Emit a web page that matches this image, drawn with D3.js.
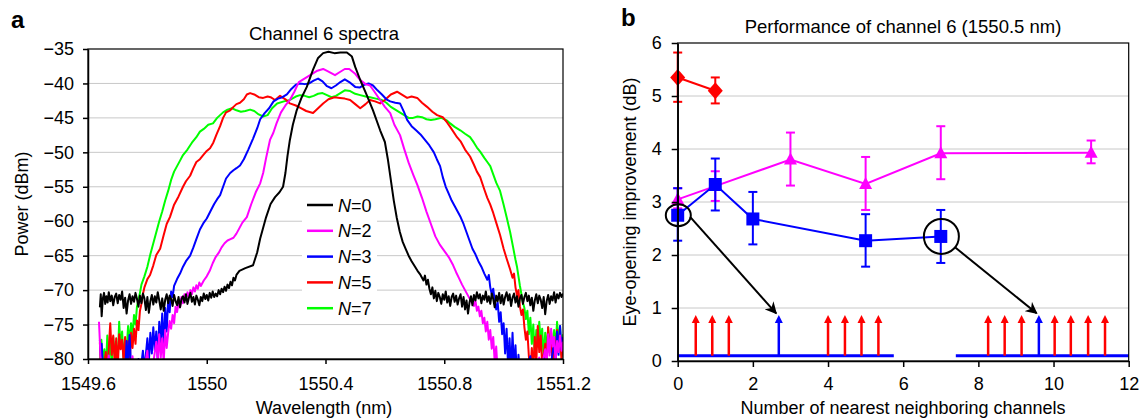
<!DOCTYPE html>
<html>
<head>
<meta charset="utf-8">
<script src="https://cdn.jsdelivr.net/npm/d3@7"></script>
<style>
  body { margin: 0; background: #fff; }
  svg { font-family: "Liberation Sans", Arial, Helvetica, sans-serif; }
  .grid line { stroke: #c8c8c8; stroke-width: 1; }
  .axis path, .axis line { stroke: #000; stroke-width: 1.5; }
  .axis text { font-size: 18px; fill: #000; }
</style>
</head>
<body>
<svg id="canvas" width="1142" height="420"></svg>
<script>
// ---------- panel a : channel 6 spectra ----------
var wlTicks = [1549.6, 1550, 1550.4, 1550.8, 1551.2];
var wlTickLabels = ["1549.6", "1550", "1550.4", "1550.8", "1551.2"];
var powerTicks = [-80, -75, -70, -65, -60, -55, -50, -45, -40, -35];
var legendLabels = ["0", "2", "3", "5", "7"];
var spectraColors = ["#000000", "#ff00ff", "#0000ff", "#ff0000", "#00ff00"];

// [wavelength (nm), power (dBm)]
var specN0 = [[1549.640,-72.5],[1549.643,-70.6],[1549.646,-73.8],[1549.650,-71.2],[1549.654,-70.4],[1549.658,-72.0],[1549.662,-70.9],[1549.666,-71.8],[1549.670,-70.3],[1549.675,-71.6],[1549.680,-70.8],[1549.685,-72.2],[1549.690,-71.0],[1549.695,-70.5],[1549.700,-71.9],[1549.705,-70.7],[1549.710,-71.4],[1549.715,-70.2],[1549.720,-72.6],[1549.725,-71.1],[1549.730,-73.4],[1549.735,-71.5],[1549.740,-70.6],[1549.745,-72.0],[1549.750,-70.9],[1549.755,-71.7],[1549.760,-70.4],[1549.765,-71.3],[1549.770,-72.4],[1549.775,-70.8],[1549.780,-71.9],[1549.785,-70.5],[1549.790,-71.2],[1549.795,-72.9],[1549.800,-71.0],[1549.805,-73.3],[1549.810,-71.6],[1549.815,-70.7],[1549.820,-72.1],[1549.825,-70.9],[1549.830,-71.8],[1549.835,-70.3],[1549.840,-71.5],[1549.845,-72.8],[1549.850,-71.2],[1549.855,-73.0],[1549.860,-71.4],[1549.865,-70.6],[1549.870,-71.9],[1549.875,-70.8],[1549.880,-71.3],[1549.885,-72.3],[1549.890,-70.7],[1549.895,-71.6],[1549.900,-72.2],[1549.905,-71.0],[1549.910,-72.5],[1549.915,-71.3],[1549.920,-70.9],[1549.925,-71.8],[1549.930,-70.6],[1549.935,-72.0],[1549.940,-71.1],[1549.945,-70.4],[1549.950,-71.7],[1549.955,-71.0],[1549.960,-72.1],[1549.965,-70.8],[1549.970,-71.4],[1549.975,-72.2],[1549.980,-71.0],[1549.985,-71.6],[1549.990,-70.5],[1549.995,-71.3],[1550.000,-70.7],[1550.005,-71.5],[1550.010,-70.4],[1550.015,-71.1],[1550.020,-70.2],[1550.025,-71.0],[1550.030,-70.5],[1550.035,-70.9],[1550.040,-70.0],[1550.045,-70.6],[1550.050,-69.8],[1550.055,-70.3],[1550.060,-69.5],[1550.065,-70.1],[1550.070,-69.2],[1550.075,-69.7],[1550.080,-68.8],[1550.085,-69.3],[1550.090,-68.2],[1550.095,-68.6],[1550.100,-67.8],[1550.110,-67.2],[1550.130,-66.8],[1550.156,-66.4],[1550.170,-64.5],[1550.180,-62.5],[1550.200,-59.4],[1550.215,-57.5],[1550.230,-56.5],[1550.245,-55.8],[1550.257,-55.0],[1550.265,-53.0],[1550.272,-50.5],[1550.280,-48.2],[1550.290,-46.0],[1550.303,-43.9],[1550.320,-42.0],[1550.337,-40.5],[1550.358,-38.0],[1550.375,-36.3],[1550.392,-35.6],[1550.410,-35.4],[1550.430,-35.6],[1550.450,-35.5],[1550.472,-35.5],[1550.489,-36.1],[1550.500,-37.6],[1550.517,-39.5],[1550.539,-41.7],[1550.560,-43.9],[1550.584,-46.8],[1550.600,-48.5],[1550.610,-51.0],[1550.620,-54.0],[1550.630,-57.0],[1550.640,-59.5],[1550.650,-61.5],[1550.660,-63.0],[1550.670,-64.0],[1550.680,-65.0],[1550.690,-65.8],[1550.700,-66.5],[1550.710,-67.2],[1550.720,-67.8],[1550.730,-68.6],[1550.735,-67.9],[1550.740,-69.2],[1550.745,-68.5],[1550.750,-69.8],[1550.755,-70.6],[1550.760,-69.6],[1550.765,-71.2],[1550.770,-70.1],[1550.775,-71.6],[1550.780,-70.4],[1550.785,-71.0],[1550.790,-72.0],[1550.795,-70.6],[1550.800,-71.4],[1550.805,-70.2],[1550.810,-71.8],[1550.815,-70.9],[1550.820,-72.3],[1550.825,-71.0],[1550.830,-70.5],[1550.835,-71.7],[1550.840,-70.8],[1550.845,-72.1],[1550.850,-71.2],[1550.855,-70.6],[1550.860,-72.4],[1550.865,-71.0],[1550.870,-72.8],[1550.875,-71.5],[1550.880,-73.4],[1550.885,-71.8],[1550.890,-70.9],[1550.895,-72.2],[1550.900,-70.7],[1550.905,-71.5],[1550.910,-70.3],[1550.915,-71.2],[1550.920,-70.6],[1550.925,-71.9],[1550.930,-70.8],[1550.935,-71.4],[1550.940,-70.2],[1550.945,-71.7],[1550.950,-70.9],[1550.955,-72.0],[1550.960,-70.5],[1550.965,-71.3],[1550.970,-72.5],[1550.975,-70.8],[1550.980,-71.6],[1550.985,-70.4],[1550.990,-71.9],[1550.995,-70.7],[1551.000,-72.1],[1551.005,-71.0],[1551.010,-70.3],[1551.015,-71.5],[1551.020,-70.6],[1551.025,-72.3],[1551.030,-71.1],[1551.035,-70.5],[1551.040,-71.8],[1551.045,-70.9],[1551.050,-72.4],[1551.055,-71.2],[1551.060,-70.7],[1551.065,-72.0],[1551.070,-71.0],[1551.075,-70.4],[1551.080,-71.6],[1551.085,-70.8],[1551.090,-72.2],[1551.095,-71.1],[1551.100,-73.0],[1551.105,-71.5],[1551.110,-70.6],[1551.115,-71.9],[1551.120,-70.8],[1551.125,-71.4],[1551.130,-72.6],[1551.135,-71.0],[1551.140,-73.5],[1551.145,-71.6],[1551.150,-70.7],[1551.155,-72.0],[1551.160,-70.9],[1551.165,-71.5],[1551.170,-70.3],[1551.175,-71.8],[1551.180,-70.6],[1551.185,-71.2],[1551.190,-70.4],[1551.195,-71.0],[1551.200,-70.5]];

var specN2 = [[1549.637,-74.6],[1549.640,-77.5],[1549.643,-81],[1549.650,-83],[1549.660,-82],[1549.670,-79.5],[1549.675,-82],[1549.690,-83],[1549.700,-81],[1549.720,-83],[1549.740,-82],[1549.750,-79.6],[1549.755,-82.5],[1549.770,-83],[1549.790,-81.5],[1549.800,-78.8],[1549.805,-82],[1549.820,-80.5],[1549.830,-77.5],[1549.835,-80.2],[1549.840,-76.4],[1549.845,-79.8],[1549.850,-77.0],[1549.855,-80.5],[1549.860,-75.8],[1549.865,-78.4],[1549.870,-76.2],[1549.875,-74.5],[1549.880,-75.6],[1549.885,-73.6],[1549.890,-74.8],[1549.895,-72.4],[1549.900,-73.2],[1549.905,-71.8],[1549.910,-72.5],[1549.915,-71.0],[1549.920,-71.9],[1549.925,-70.6],[1549.930,-71.4],[1549.935,-70.3],[1549.940,-71.0],[1549.945,-70.0],[1549.950,-70.6],[1549.955,-69.6],[1549.960,-70.2],[1549.965,-69.3],[1549.970,-69.8],[1549.975,-68.9],[1549.980,-69.4],[1549.990,-68.6],[1550.000,-68.0],[1550.010,-67.2],[1550.020,-66.1],[1550.030,-65.2],[1550.040,-64.6],[1550.050,-63.8],[1550.060,-63.2],[1550.070,-62.8],[1550.080,-62.6],[1550.090,-62.4],[1550.100,-61.8],[1550.110,-61.0],[1550.120,-60.2],[1550.135,-59.4],[1550.150,-57.5],[1550.165,-55.8],[1550.180,-54.5],[1550.190,-53.0],[1550.200,-50.8],[1550.213,-48.2],[1550.224,-47.2],[1550.235,-45.8],[1550.250,-44.2],[1550.265,-43.2],[1550.280,-42.4],[1550.295,-41.2],[1550.310,-39.8],[1550.325,-39.4],[1550.340,-39.0],[1550.355,-38.6],[1550.370,-38.2],[1550.392,-37.9],[1550.410,-38.3],[1550.432,-38.8],[1550.450,-38.3],[1550.465,-37.9],[1550.480,-37.9],[1550.500,-38.6],[1550.517,-39.5],[1550.535,-40.1],[1550.550,-40.3],[1550.565,-41.2],[1550.584,-42.4],[1550.600,-43.4],[1550.618,-44.3],[1550.632,-46.0],[1550.651,-47.5],[1550.665,-49.5],[1550.680,-51.5],[1550.695,-53.2],[1550.710,-54.8],[1550.725,-56.6],[1550.740,-58.6],[1550.755,-60.4],[1550.770,-62.2],[1550.785,-63.4],[1550.800,-64.3],[1550.815,-65.2],[1550.830,-66.4],[1550.840,-67.4],[1550.850,-68.3],[1550.860,-69.2],[1550.870,-70.0],[1550.880,-70.8],[1550.890,-71.6],[1550.900,-72.3],[1550.905,-71.5],[1550.910,-73.0],[1550.915,-72.4],[1550.920,-73.8],[1550.925,-73.0],[1550.930,-74.8],[1550.935,-74.0],[1550.940,-76.0],[1550.945,-74.6],[1550.950,-77.2],[1550.955,-75.8],[1550.960,-78.5],[1550.965,-76.8],[1550.970,-80.5],[1550.975,-78.2],[1550.980,-82],[1550.990,-83],[1551.000,-81],[1551.010,-83],[1551.030,-82],[1551.050,-83],[1551.070,-81.5],[1551.080,-83],[1551.100,-82],[1551.120,-79.8],[1551.125,-82],[1551.140,-78.6],[1551.145,-81],[1551.150,-76.4],[1551.155,-79.5],[1551.160,-75.6],[1551.165,-78.2],[1551.170,-76.8],[1551.175,-80.5],[1551.180,-77.4],[1551.185,-79.0],[1551.190,-76.6],[1551.195,-78.8],[1551.200,-77.5]];

var specN3 = [[1549.640,-77.2],[1549.643,-79.5],[1549.646,-77.8],[1549.650,-81],[1549.660,-83],[1549.670,-81.5],[1549.680,-83],[1549.690,-80.8],[1549.695,-82.5],[1549.710,-83],[1549.720,-80.5],[1549.725,-82],[1549.730,-77.4],[1549.735,-80.6],[1549.740,-76.5],[1549.745,-81],[1549.755,-83],[1549.770,-80],[1549.775,-82.5],[1549.785,-78.8],[1549.790,-81.6],[1549.800,-77.0],[1549.805,-80.4],[1549.810,-76.2],[1549.815,-79.2],[1549.820,-75.4],[1549.825,-78.8],[1549.830,-76.0],[1549.835,-80.2],[1549.840,-74.6],[1549.845,-77.6],[1549.850,-73.4],[1549.855,-78.4],[1549.860,-72.6],[1549.865,-76.0],[1549.870,-71.4],[1549.875,-73.2],[1549.880,-70.2],[1549.885,-71.0],[1549.890,-69.4],[1549.900,-68.4],[1549.910,-67.6],[1549.920,-66.6],[1549.930,-65.8],[1549.944,-65.0],[1549.955,-63.8],[1549.965,-62.6],[1549.977,-61.2],[1549.990,-60.2],[1550.000,-59.6],[1550.012,-58.6],[1550.025,-57.5],[1550.035,-56.8],[1550.045,-56.2],[1550.055,-55.0],[1550.065,-53.8],[1550.079,-53.0],[1550.090,-52.6],[1550.100,-52.3],[1550.112,-51.9],[1550.125,-51.0],[1550.140,-49.6],[1550.156,-48.0],[1550.170,-46.5],[1550.180,-45.2],[1550.195,-44.3],[1550.210,-43.6],[1550.225,-42.6],[1550.240,-42.2],[1550.255,-42.0],[1550.270,-41.6],[1550.285,-40.8],[1550.300,-40.2],[1550.314,-40.0],[1550.330,-40.1],[1550.345,-40.0],[1550.360,-39.6],[1550.375,-39.3],[1550.390,-39.7],[1550.405,-40.4],[1550.420,-40.7],[1550.435,-40.3],[1550.450,-39.8],[1550.465,-39.4],[1550.480,-39.8],[1550.500,-40.5],[1550.515,-40.6],[1550.530,-40.2],[1550.545,-40.0],[1550.560,-40.3],[1550.575,-41.0],[1550.590,-41.6],[1550.605,-42.3],[1550.618,-42.6],[1550.635,-42.8],[1550.651,-42.9],[1550.665,-44.2],[1550.675,-45.3],[1550.690,-46.2],[1550.705,-46.8],[1550.720,-47.4],[1550.735,-48.2],[1550.750,-49.0],[1550.765,-50.0],[1550.775,-51.0],[1550.786,-52.0],[1550.795,-53.6],[1550.805,-55.0],[1550.815,-56.0],[1550.825,-57.0],[1550.835,-57.8],[1550.845,-58.6],[1550.855,-59.4],[1550.865,-60.4],[1550.875,-61.6],[1550.885,-62.8],[1550.895,-64.0],[1550.905,-64.8],[1550.915,-65.8],[1550.925,-66.6],[1550.935,-67.6],[1550.945,-68.5],[1550.950,-67.8],[1550.955,-69.6],[1550.960,-70.6],[1550.965,-69.8],[1550.970,-71.6],[1550.975,-72.8],[1550.980,-71.8],[1550.985,-74.6],[1550.990,-73.2],[1550.995,-76.4],[1551.000,-74.8],[1551.005,-79.2],[1551.010,-75.6],[1551.015,-81],[1551.020,-77.0],[1551.025,-82],[1551.030,-76.2],[1551.035,-81.5],[1551.040,-78.0],[1551.045,-83],[1551.050,-79.4],[1551.055,-82],[1551.065,-83],[1551.080,-81],[1551.090,-79.6],[1551.095,-82.5],[1551.110,-83],[1551.130,-81],[1551.140,-78.8],[1551.145,-82],[1551.160,-80.6],[1551.170,-77.6],[1551.175,-80.8],[1551.180,-76.0],[1551.185,-79.4],[1551.190,-75.2],[1551.195,-78.6],[1551.200,-76.8]];

var specN5 = [[1549.640,-77.6],[1549.643,-80.5],[1549.650,-82],[1549.660,-79.0],[1549.665,-82],[1549.675,-74.8],[1549.680,-79.4],[1549.685,-76.6],[1549.690,-80.8],[1549.695,-77.0],[1549.700,-81.5],[1549.705,-76.4],[1549.710,-78.6],[1549.715,-77.2],[1549.720,-80.4],[1549.725,-76.8],[1549.730,-79.8],[1549.735,-77.4],[1549.740,-81],[1549.745,-76.2],[1549.750,-78.4],[1549.755,-75.6],[1549.760,-77.8],[1549.765,-74.4],[1549.770,-75.8],[1549.775,-73.0],[1549.780,-72.0],[1549.785,-70.6],[1549.790,-69.6],[1549.800,-68.4],[1549.809,-67.8],[1549.820,-66.4],[1549.830,-64.9],[1549.843,-64.0],[1549.855,-62.0],[1549.865,-60.4],[1549.876,-59.4],[1549.890,-57.6],[1549.905,-56.4],[1549.920,-55.0],[1549.930,-54.2],[1549.944,-53.4],[1549.955,-52.3],[1549.965,-51.4],[1549.977,-51.0],[1549.990,-50.3],[1550.000,-49.8],[1550.011,-49.4],[1550.022,-48.6],[1550.033,-47.4],[1550.045,-46.2],[1550.055,-45.0],[1550.065,-44.2],[1550.079,-43.9],[1550.090,-43.4],[1550.100,-43.0],[1550.112,-42.8],[1550.125,-42.3],[1550.135,-41.6],[1550.146,-41.4],[1550.160,-41.6],[1550.175,-42.0],[1550.190,-42.1],[1550.205,-41.9],[1550.215,-42.0],[1550.230,-42.4],[1550.247,-41.8],[1550.265,-42.3],[1550.280,-42.9],[1550.300,-43.2],[1550.314,-43.5],[1550.335,-44.0],[1550.358,-44.3],[1550.375,-43.6],[1550.392,-42.9],[1550.410,-42.3],[1550.430,-42.0],[1550.449,-42.1],[1550.465,-42.2],[1550.483,-42.4],[1550.500,-43.0],[1550.517,-43.6],[1550.535,-43.0],[1550.550,-42.4],[1550.567,-42.6],[1550.584,-42.9],[1550.600,-42.4],[1550.620,-41.6],[1550.641,-41.2],[1550.660,-41.7],[1550.675,-42.1],[1550.690,-41.9],[1550.709,-42.1],[1550.725,-42.8],[1550.742,-43.4],[1550.760,-44.1],[1550.776,-44.6],[1550.795,-44.9],[1550.810,-45.7],[1550.820,-46.3],[1550.843,-47.8],[1550.855,-48.4],[1550.870,-49.6],[1550.887,-50.6],[1550.900,-51.8],[1550.910,-52.8],[1550.921,-53.6],[1550.935,-55.4],[1550.945,-56.6],[1550.955,-57.6],[1550.965,-58.8],[1550.975,-60.2],[1550.988,-62.0],[1551.000,-64.0],[1551.010,-65.4],[1551.022,-67.0],[1551.030,-68.2],[1551.035,-67.6],[1551.040,-69.6],[1551.045,-70.8],[1551.050,-70.0],[1551.055,-72.4],[1551.060,-73.6],[1551.065,-72.8],[1551.070,-75.4],[1551.075,-77.2],[1551.080,-76.0],[1551.085,-79.6],[1551.090,-82],[1551.095,-78.4],[1551.100,-81.5],[1551.105,-76.8],[1551.110,-80.6],[1551.115,-75.2],[1551.120,-79.0],[1551.125,-76.6],[1551.130,-81],[1551.140,-77.8],[1551.145,-80.4],[1551.150,-75.4],[1551.155,-78.6],[1551.160,-76.2],[1551.165,-80.8],[1551.170,-77.0],[1551.175,-79.6],[1551.180,-75.8],[1551.185,-78.0],[1551.190,-76.4],[1551.195,-80.2],[1551.200,-77.8]];

var specN7 = [[1549.640,-80.5],[1549.645,-77.2],[1549.650,-80.4],[1549.655,-78.6],[1549.660,-81.5],[1549.665,-76.6],[1549.670,-79.8],[1549.675,-77.4],[1549.680,-81],[1549.685,-76.8],[1549.690,-79.2],[1549.695,-78.0],[1549.700,-80.6],[1549.705,-74.6],[1549.710,-78.4],[1549.715,-76.0],[1549.720,-80.2],[1549.725,-77.2],[1549.730,-79.0],[1549.735,-75.2],[1549.740,-77.8],[1549.745,-74.8],[1549.750,-76.6],[1549.755,-73.6],[1549.760,-75.0],[1549.765,-72.4],[1549.770,-71.4],[1549.775,-70.4],[1549.780,-69.2],[1549.790,-68.0],[1549.800,-66.6],[1549.810,-64.8],[1549.820,-63.2],[1549.830,-61.6],[1549.840,-60.0],[1549.850,-58.6],[1549.860,-57.0],[1549.870,-55.6],[1549.880,-54.0],[1549.890,-52.8],[1549.900,-52.0],[1549.910,-51.2],[1549.920,-50.4],[1549.935,-49.6],[1549.950,-48.6],[1549.965,-47.8],[1549.977,-47.0],[1549.990,-46.6],[1550.005,-46.0],[1550.021,-45.8],[1550.035,-45.0],[1550.055,-44.2],[1550.070,-43.8],[1550.085,-43.6],[1550.100,-43.9],[1550.115,-44.1],[1550.130,-44.0],[1550.146,-43.8],[1550.160,-44.0],[1550.175,-44.5],[1550.190,-44.8],[1550.205,-44.6],[1550.220,-43.6],[1550.237,-42.9],[1550.260,-42.6],[1550.280,-42.4],[1550.300,-41.9],[1550.314,-41.7],[1550.330,-41.8],[1550.345,-42.0],[1550.360,-41.8],[1550.375,-41.5],[1550.390,-41.4],[1550.405,-41.7],[1550.420,-42.0],[1550.435,-41.8],[1550.450,-41.4],[1550.465,-41.0],[1550.483,-41.1],[1550.500,-41.5],[1550.517,-41.7],[1550.535,-41.9],[1550.550,-42.0],[1550.570,-42.2],[1550.590,-42.4],[1550.605,-42.8],[1550.620,-43.4],[1550.635,-43.8],[1550.650,-44.2],[1550.665,-44.6],[1550.680,-45.0],[1550.695,-45.0],[1550.710,-44.8],[1550.725,-44.9],[1550.740,-45.2],[1550.755,-45.3],[1550.770,-45.2],[1550.790,-45.0],[1550.810,-45.4],[1550.820,-45.8],[1550.835,-46.3],[1550.854,-46.8],[1550.870,-47.3],[1550.887,-47.8],[1550.900,-48.6],[1550.910,-49.3],[1550.921,-49.9],[1550.935,-50.8],[1550.945,-51.4],[1550.955,-52.0],[1550.965,-53.2],[1550.975,-54.4],[1550.988,-55.6],[1551.000,-57.6],[1551.010,-59.4],[1551.022,-61.6],[1551.032,-63.8],[1551.040,-65.6],[1551.045,-66.6],[1551.050,-68.0],[1551.055,-69.4],[1551.060,-70.6],[1551.065,-71.8],[1551.070,-72.6],[1551.075,-74.2],[1551.080,-73.0],[1551.085,-76.4],[1551.090,-74.0],[1551.095,-77.8],[1551.100,-75.0],[1551.105,-79.6],[1551.110,-75.8],[1551.115,-78.2],[1551.120,-74.6],[1551.125,-77.4],[1551.130,-75.6],[1551.135,-80.2],[1551.140,-76.2],[1551.145,-78.8],[1551.150,-75.4],[1551.155,-79.0],[1551.160,-76.0],[1551.165,-80.8],[1551.170,-75.8],[1551.175,-78.4],[1551.180,-74.6],[1551.185,-77.6],[1551.190,-75.2],[1551.195,-79.4],[1551.200,-76.4]];

// ---------- panel b : eye-opening improvement ----------
var neighborTicks = [0, 2, 4, 6, 8, 10, 12];
var eyeTicks = [0, 1, 2, 3, 4, 5, 6];

var redX = [0, 1];
var redY = [5.35, 5.10];
var redLo = [4.89, 4.86];
var redHi = [5.82, 5.35];

var magX = [0, 1, 3, 5, 7, 11];
var magY = [3.05, 3.30, 3.80, 3.34, 3.92, 3.93];
var magLo = [2.88, 3.02, 3.31, 2.85, 3.43, 3.73];
var magHi = [3.26, 3.58, 4.31, 3.85, 4.43, 4.16];

var blueX = [0, 1, 2, 5, 7];
var blueY = [2.75, 3.33, 2.68, 2.27, 2.35];
var blueLo = [2.27, 2.84, 2.20, 1.78, 1.85];
var blueHi = [3.26, 3.82, 3.19, 2.77, 2.85];

// channel comb sketch along the bottom
var combBase = [[0, 5.75], [7.4, 12]];
var combRed = [0.48, 0.92, 1.36, 4.0, 4.45, 4.89, 5.34, 8.26, 8.70, 9.15, 10.03, 10.46, 10.92, 11.37];
var combBlue = [2.69, 9.61];

// circled points and pointer arrows [x0, y0, x1, y1] in data units
var circledPoints = [[0, 2.75, 12.5, 11], [7, 2.35, 17.5, 17.5]];
var pointerArrows = [[0.33, 2.72, 2.62, 0.9], [7.37, 2.15, 9.55, 0.9]];

var svg = d3.select("#canvas");
var font = '"Liberation Sans", Arial, Helvetica, sans-serif';

// ======================= panel a =======================
var xL = d3.scaleLinear().domain([1549.6, 1551.2]).range([88, 563]);
var yL = d3.scaleLinear().domain([-80, -35]).range([359, 49]);

var gA = svg.append("g");

gA.append("g").attr("class", "grid")
  .selectAll("line").data(powerTicks.slice(1, -1)).enter().append("line")
  .attr("x1", xL.range()[0]).attr("x2", xL.range()[1])
  .attr("y1", function(d){ return yL(d); })
  .attr("y2", function(d){ return yL(d); });

svg.append("clipPath").attr("id", "clipA")
  .append("rect").attr("x", 88).attr("y", 49).attr("width", 475).attr("height", 310);

var spectra = [specN0, specN2, specN3, specN5, specN7];
var specLine = d3.line()
  .x(function(d){ return xL(d[0]); })
  .y(function(d){ return yL(d[1]); });

var specG = gA.append("g").attr("clip-path", "url(#clipA)");
// draw widest first so the narrow spectra sit on top
for (var i = spectra.length - 1; i >= 0; i--) {
  specG.append("path")
    .attr("d", specLine(spectra[i]))
    .attr("fill", "none")
    .attr("stroke", spectraColors[i])
    .attr("stroke-width", 2)
    .attr("stroke-linejoin", "round");
}

// legend box
var leg = gA.append("g");
leg.append("rect").attr("x", 302).attr("y", 192).attr("width", 75).attr("height", 127).attr("fill", "#fff");
legendLabels.forEach(function(lab, i){
  var cy = 205 + i * 25.8;
  leg.append("line").attr("x1", 307).attr("x2", 333).attr("y1", cy).attr("y2", cy)
    .attr("stroke", spectraColors[i]).attr("stroke-width", 2.5);
  var t = leg.append("text").attr("x", 338).attr("y", cy + 6.5)
    .attr("font-size", 18).attr("font-family", font);
  t.append("tspan").attr("font-style", "italic").text("N");
  t.append("tspan").text("=" + lab);
});

// frame
gA.append("rect").attr("x", 88).attr("y", 49).attr("width", 475).attr("height", 310)
  .attr("fill", "none").attr("stroke", "#000").attr("stroke-width", 1.2);

gA.append("g").attr("class", "axis")
  .attr("transform", "translate(0,359)")
  .call(d3.axisBottom(xL).tickValues(wlTicks).tickSize(5).tickSizeOuter(0).tickPadding(13)
    .tickFormat(function(d, i){ return wlTickLabels[i]; }));

gA.append("g").attr("class", "axis")
  .attr("transform", "translate(88,0)")
  .call(d3.axisLeft(yL).tickValues(powerTicks).tickSize(5).tickSizeOuter(0).tickPadding(9)
    .tickFormat(function(d){ return d < 0 ? "\u2212" + Math.abs(d) : d; }));

gA.append("text").attr("x", 324).attr("y", 40).attr("text-anchor", "middle")
  .attr("font-size", 18.5).text("Channel 6 spectra");
gA.append("text").attr("x", 324).attr("y", 414).attr("text-anchor", "middle")
  .attr("font-size", 18).text("Wavelength (nm)");
gA.append("text").attr("transform", "translate(28,204) rotate(-90)").attr("text-anchor", "middle")
  .attr("font-size", 18).text("Power (dBm)");
gA.append("text").attr("x", 11).attr("y", 28).attr("font-size", 24).attr("font-weight", "bold").text("a");

// ======================= panel b =======================
var xR = d3.scaleLinear().domain([0, 12]).range([677.7, 1128.7]);
var yR = d3.scaleLinear().domain([0, 6]).range([361, 43]);

var gB = svg.append("g");

gB.append("g").attr("class", "grid")
  .selectAll("line").data(eyeTicks.slice(1, -1)).enter().append("line")
  .attr("x1", xR.range()[0]).attr("x2", xR.range()[1])
  .attr("y1", function(d){ return yR(d); })
  .attr("y2", function(d){ return yR(d); });

// channel comb
combBase.forEach(function(seg){
  gB.append("line").attr("x1", xR(seg[0])).attr("x2", xR(seg[1]))
    .attr("y1", yR(0.1)).attr("y2", yR(0.1))
    .attr("stroke", "#0000ff").attr("stroke-width", 3);
});

function drawComb(xs, color) {
  xs.forEach(function(x){
    var px = xR(x), top = yR(0.87);
    gB.append("line").attr("x1", px).attr("x2", px)
      .attr("y1", yR(0.1)).attr("y2", top + 6)
      .attr("stroke", color).attr("stroke-width", 2.5);
    gB.append("path")
      .attr("d", "M" + px + "," + top + " L" + (px + 4) + "," + (top + 8) + " L" + (px - 4) + "," + (top + 8) + " Z")
      .attr("fill", color);
  });
}
drawComb(combRed, "#ff0000");
drawComb(combBlue, "#0000ff");

// series with error bars
function drawSeries(xs, ys, lo, hi, color, shape) {
  var line = d3.line()
    .x(function(d, i){ return xR(xs[i]); })
    .y(function(d){ return yR(d); });
  gB.append("path").attr("d", line(ys)).attr("fill", "none")
    .attr("stroke", color).attr("stroke-width", 2);

  xs.forEach(function(x, i){
    var px = xR(x);
    gB.append("line").attr("x1", px).attr("x2", px)
      .attr("y1", yR(lo[i])).attr("y2", yR(hi[i]))
      .attr("stroke", color).attr("stroke-width", 2);
    [lo[i], hi[i]].forEach(function(v){
      gB.append("line").attr("x1", px - 4.5).attr("x2", px + 4.5)
        .attr("y1", yR(v)).attr("y2", yR(v))
        .attr("stroke", color).attr("stroke-width", 2);
    });
  });

  gB.selectAll(null).data(ys).enter().append("path")
    .attr("transform", function(d, i){ return "translate(" + xR(xs[i]) + "," + yR(d) + ")"; })
    .attr("d", shape)
    .attr("fill", color);
}

var triangle = "M0,-7 L6.5,5 L-6.5,5 Z";
var square = "M-6.5,-6.5 H6.5 V6.5 H-6.5 Z";
var diamond = "M0,-8.5 L7.5,0 L0,8.5 L-7.5,0 Z";

drawSeries(magX, magY, magLo, magHi, "#ff00ff", triangle);
drawSeries(blueX, blueY, blueLo, blueHi, "#0000ff", square);
drawSeries(redX, redY, redLo, redHi, "#ff0000", diamond);

// circled points and pointer arrows
circledPoints.forEach(function(c){
  gB.append("ellipse").attr("cx", xR(c[0]) + 0.6).attr("cy", yR(c[1]))
    .attr("rx", c[2]).attr("ry", c[3])
    .attr("fill", "none").attr("stroke", "#000").attr("stroke-width", 2);
});

svg.append("defs").append("marker")
  .attr("id", "blackHead").attr("viewBox", "0 0 10 10")
  .attr("refX", 9).attr("refY", 5)
  .attr("markerWidth", 6).attr("markerHeight", 6)
  .attr("markerUnits", "strokeWidth").attr("orient", "auto")
  .append("path").attr("d", "M0,0 L10,5 L0,10 L3,5 Z").attr("fill", "#000");

pointerArrows.forEach(function(a){
  gB.append("line").attr("x1", xR(a[0])).attr("y1", yR(a[1]))
    .attr("x2", xR(a[2])).attr("y2", yR(a[3]))
    .attr("stroke", "#000").attr("stroke-width", 2)
    .attr("marker-end", "url(#blackHead)");
});

// frame
gB.append("rect").attr("x", 677.7).attr("y", 43).attr("width", 451).attr("height", 318)
  .attr("fill", "none").attr("stroke", "#000").attr("stroke-width", 1.2);

gB.append("g").attr("class", "axis")
  .attr("transform", "translate(0,361)")
  .call(d3.axisBottom(xR).tickValues(neighborTicks).tickSize(6).tickSizeOuter(0).tickPadding(10)
    .tickFormat(d3.format("d")));

gB.append("g").attr("class", "axis")
  .attr("transform", "translate(677.7,0)")
  .call(d3.axisLeft(yR).tickValues(eyeTicks).tickSize(6).tickSizeOuter(0).tickPadding(10)
    .tickFormat(d3.format("d")));

gB.append("text").attr("x", 903).attr("y", 33).attr("text-anchor", "middle")
  .attr("font-size", 18.5).text("Performance of channel 6 (1550.5 nm)");
gB.append("text").attr("x", 903).attr("y", 414).attr("text-anchor", "middle")
  .attr("font-size", 18).text("Number of nearest neighboring channels");
gB.append("text").attr("transform", "translate(636,202) rotate(-90)").attr("text-anchor", "middle")
  .attr("font-size", 18).text("Eye-opening improvement (dB)");
gB.append("text").attr("x", 621).attr("y", 26).attr("font-size", 24).attr("font-weight", "bold").text("b");
</script>
</body>
</html>
